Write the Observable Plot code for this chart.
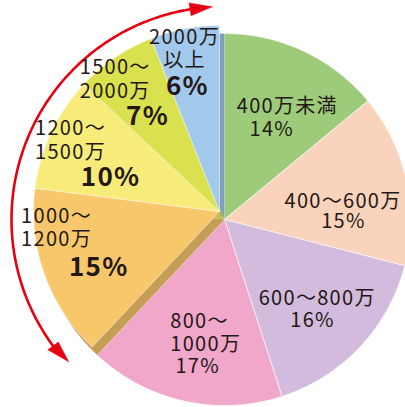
<!DOCTYPE html>
<html><head><meta charset="utf-8">
<script src="https://cdn.jsdelivr.net/npm/d3@7"></script>
<script src="https://cdn.jsdelivr.net/npm/@observablehq/plot@0.6"></script>
<style>body{margin:0;background:#fff}</style>
</head><body><div id="chart"></div>
<script>
// ---- data ----
const categories = ["400万未満","400～600万","600～800万","800～1000万","1000～1200万","1200～1500万","1500～2000万","2000万以上"];
const labelLines = ["400万未満","400～600万","600～800万","800～\n1000万","1000～\n1200万","1200～\n1500万","1500～\n2000万","2000万\n以上"];
const shares = [14,15,16,17,15,10,7,6];
const pctLabels = ["14%","15%","16%","17%","15%","10%","7%","6%"];
const highlighted = [false,false,false,false,true,true,true,true];

// ---- style / layout ----
const colors = ["#9DCB7A","#F9D3BB","#D2BBDC","#F1A7C9","#F8C76B","#F7EC7A","#D9E14E","#A2C9EB"];
const PX = 186;                       // pixels per radius unit
const explode = [-5/PX, 8/PX];        // offset of highlighted group
const nameAngle  = [28.9, 80.9, 130.0, 205.7, 265.5, 291.3, 313.6, 347.9];
const nameRadius = [130, 120, 121, 125, 199, 198, 193, 167];
const nameAnchor = ["middle","middle","middle","start","start","start","start","middle"];
const pctAngle   = [27.6, 91.0, 138.9, 190.3, 245.2, 287.3, 322.8, 345.6];
const pctRadius  = [102, 119, 134, 150, 133, 114, 119, 129];

const arcs = d3.pie().sort(null).value(d => d)(shares);
const rad = Math.PI / 180;
const pt = (c, r, a) => [c[0] + r * Math.sin(a), c[1] + r * Math.cos(a)];

function slicePts(i, c, fill) {
  const a0 = arcs[i].startAngle, a1 = arcs[i].endAngle;
  const n = Math.max(2, Math.ceil((a1 - a0) / (0.5 * rad)));
  const pts = [{key: i, x: c[0], y: c[1], fill}];
  for (let k = 0; k <= n; k++) {
    const [x, y] = pt(c, 1, a0 + (a1 - a0) * k / n);
    pts.push({key: i, x, y, fill});
  }
  pts.push({key: i, x: c[0], y: c[1], fill});
  return pts;
}
const O = [0, 0];
const mainPts = [], sidePts = [], expPts = [];
categories.forEach((cat, i) => {
  if (!highlighted[i]) mainPts.push(...slicePts(i, O, colors[i]));
  else {
    sidePts.push(...slicePts(i, O, d3.color(colors[i]).darker(0.65).formatHex()));
    expPts.push(...slicePts(i, explode, colors[i]));
  }
});

// red double arrow spanning the highlighted group
const hi = arcs.filter((a, i) => highlighted[i]);
const gStart = hi[0].startAngle, gEnd = hi[hi.length - 1].endAngle;
const arcR = 213 / PX;
const tipFrom = gStart + 4.4 * rad, tipTo = gEnd - 3.3 * rad;     // arrow tips
const headLen = 6 * rad, headHalf = 6.5 / PX;
const aFrom = tipFrom + headLen, aTo = tipTo - headLen;            // arrow bases
const arcPts = d3.range(0, 1.0001, 1 / 120).map(t => {
  const [x, y] = pt(O, arcR, (aFrom - 1 * rad) + (aTo - aFrom + 2 * rad) * t);
  return {x, y};
});
function head(key, tipA, baseA, inward) {
  const [tx, ty] = pt(O, arcR - inward, tipA);
  const [ox, oy] = pt(O, arcR + headHalf, baseA);
  const [ix, iy] = pt(O, arcR - headHalf, baseA);
  return [{key, x: tx, y: ty}, {key, x: ox, y: oy}, {key, x: ix, y: iy}, {key, x: tx, y: ty}];
}
const headPts = [...head(0, tipFrom, aFrom, 2 / PX), ...head(1, tipTo, aTo, 0)];

// labels
const labels = categories.map((cat, i) => {
  const c = highlighted[i] ? explode : O;
  const [nx, ny] = pt(c, nameRadius[i] / PX, nameAngle[i] * rad);
  const [px, py] = pt(c, pctRadius[i] / PX, pctAngle[i] * rad);
  return {cat, name: labelLines[i], pct: pctLabels[i], nx, ny, px, py, anchor: nameAnchor[i], hi: highlighted[i]};
});

const textColor = "#231815";
const chart = Plot.plot({
  width: 405, height: 407, margin: 0,
  x: {domain: [-224 / PX, (405 - 224) / PX], axis: null},
  y: {domain: [(219 - 407) / PX, 219 / PX], axis: null},
  style: {fontFamily: "'Noto Sans CJK JP', 'Noto Sans', sans-serif", letterSpacing: "1.3px", background: "#fff"},
  marks: [
    Plot.line(mainPts, {x: "x", y: "y", z: "key", fill: "fill", stroke: "#fff", strokeWidth: 0.6}),
    Plot.line(sidePts, {x: "x", y: "y", z: "key", fill: "fill", stroke: "none"}),
    Plot.line(expPts, {x: "x", y: "y", z: "key", fill: "fill", stroke: "#fff", strokeWidth: 0.5}),
    Plot.line(arcPts, {x: "x", y: "y", stroke: "#E60012", strokeWidth: 2.6}),
    Plot.line(headPts, {x: "x", y: "y", z: "key", fill: "#E60012", stroke: "#E60012", strokeWidth: 0.5}),
    Plot.text(labels.filter(d => d.anchor === "middle"), {x: "nx", y: "ny", text: "name", textAnchor: "middle", lineAnchor: "middle", lineHeight: 1.17, fontSize: 20, fill: textColor}),
    Plot.text(labels.filter(d => d.anchor === "start"), {x: "nx", y: "ny", text: "name", textAnchor: "start", lineAnchor: "middle", lineHeight: 1.17, fontSize: 20, fill: textColor}),
    Plot.text(labels.filter(d => !d.hi), {x: "px", y: "py", text: "pct", textAnchor: "middle", lineAnchor: "middle", fontSize: 20, fill: textColor}),
    Plot.text(labels.filter(d => d.hi), {x: "px", y: "py", text: "pct", textAnchor: "middle", lineAnchor: "middle", fontSize: 26, fontWeight: "bold", fill: textColor})
  ]
});
document.getElementById("chart").appendChild(chart);
</script>
</body></html>
